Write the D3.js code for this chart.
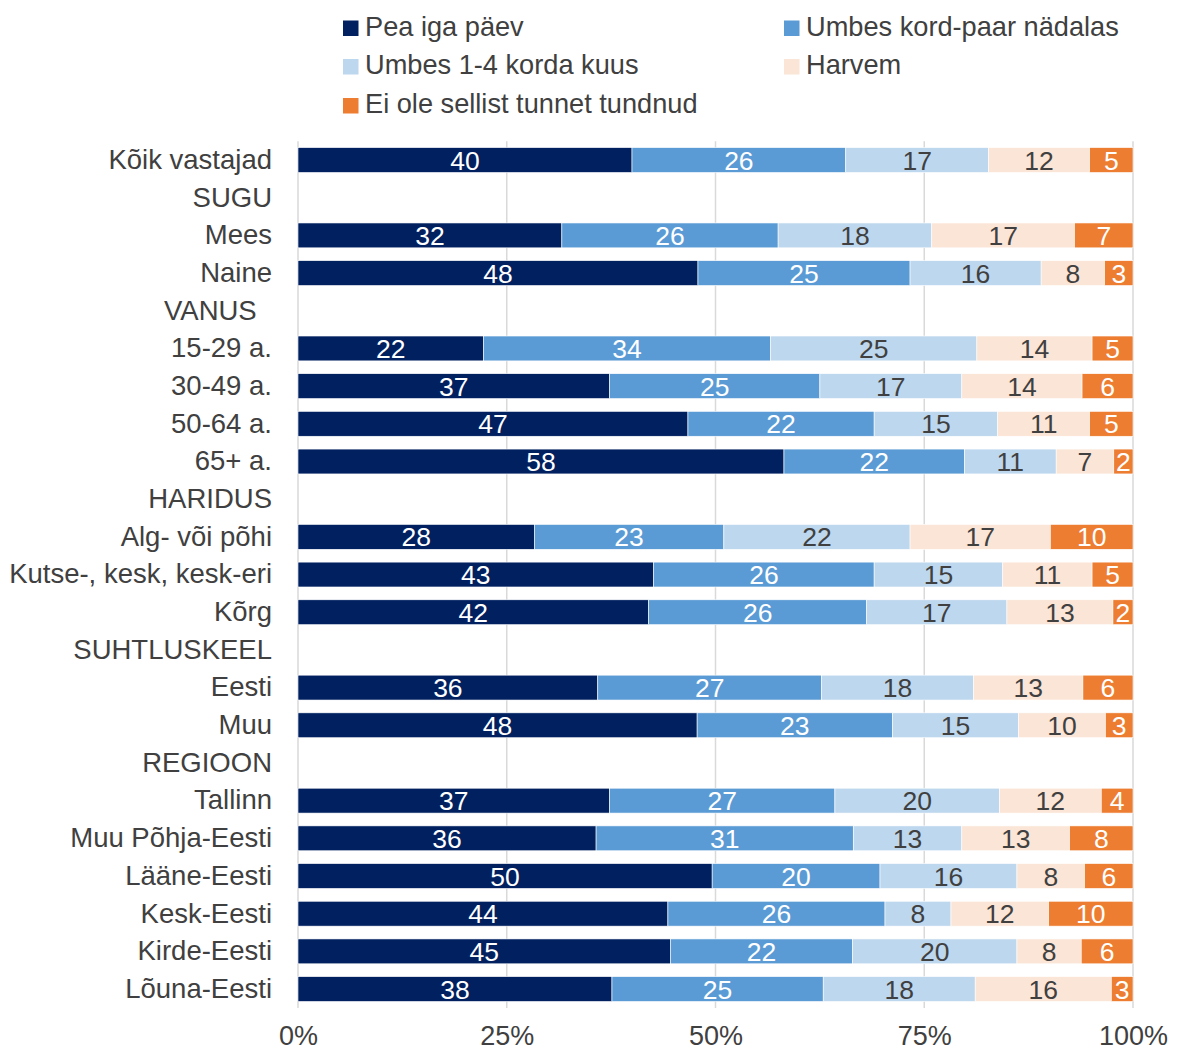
<!DOCTYPE html>
<html>
<head>
<meta charset="utf-8">
<script src="https://cdn.jsdelivr.net/npm/d3@7"></script>
<style>
  html, body { margin: 0; padding: 0; background: #fff; }
  svg { display: block; font-family: "Liberation Sans", Arial, sans-serif; }
  text { white-space: pre; }
</style>
</head>
<body>
<svg id="chart" width="1184" height="1050"></svg>
<script>
// ---- data ----
const categories = [
  "Kõik vastajad", "SUGU", "Mees", "Naine", "VANUS  ",
  "15-29 a.", "30-49 a.", "50-64 a.", "65+ a.", "HARIDUS",
  "Alg- või põhi", "Kutse-, kesk, kesk-eri", "Kõrg", "SUHTLUSKEEL",
  "Eesti", "Muu", "REGIOON", "Tallinn", "Muu Põhja-Eesti",
  "Lääne-Eesti", "Kesk-Eesti", "Kirde-Eesti", "Lõuna-Eesti"
];
const seriesNames = [
  "Pea iga päev", "Umbes kord-paar nädalas", "Umbes 1-4 korda kuus",
  "Harvem", "Ei ole sellist tunnet tundnud"
];
// null = group heading row (no bar)
const peaIgaPaev   = [40.0, null, 31.6, 47.9, null, 22.2, 37.3, 46.7, 58.2, null, 28.3, 42.6, 42.0, null, 35.9, 47.8, null, 37.3, 35.7, 49.6, 44.3, 44.6, 37.6];
const kordPaar     = [25.6, null, 25.9, 25.4, null, 34.4, 25.2, 22.3, 21.6, null, 22.7, 26.4, 26.1, null, 26.8, 23.4, null, 27.0, 30.8, 20.1, 26.0, 21.8, 25.3];
const korda14      = [17.1, null, 18.4, 15.7, null, 24.7, 17.0, 14.8, 11.0, null, 22.3, 15.4, 16.8, null, 18.2, 15.1, null, 19.7, 13.0, 16.4, 7.9, 19.7, 18.2];
const harvem       = [12.1, null, 17.1, 7.6, null, 13.8, 14.4, 11.0, 6.9, null, 16.8, 10.7, 12.7, null, 13.1, 10.4, null, 12.2, 12.9, 8.1, 11.7, 7.7, 16.3];
const eiOle        = [5.2, null, 7.0, 3.4, null, 4.9, 6.1, 5.2, 2.3, null, 9.9, 4.9, 2.4, null, 6.0, 3.3, null, 3.8, 7.6, 5.8, 10.1, 6.2, 2.6];
const xTicks = [0, 0.25, 0.5, 0.75, 1];

// ---- styles ----
const colors = ["#002060", "#5b9bd5", "#bdd7ee", "#fbe5d6", "#ed7d31"];
const labelColors = ["#ffffff", "#ffffff", "#404040", "#404040", "#ffffff"];
const textColor = "#404040";

const seriesValues = [peaIgaPaev, kordPaar, korda14, harvem, eiOle];
const keys = ["s0", "s1", "s2", "s3", "s4"];

const rows = categories.map((c, i) => {
  const r = { idx: i, cat: c };
  keys.forEach((k, j) => r[k] = seriesValues[j][i]);
  return r;
});
const dataRows = rows.filter(r => r.s0 !== null);

const W = 1184, H = 1050;
const margin = { top: 141.2, right: 51, bottom: 42.1, left: 298 };
const svg = d3.select("#chart");

const x = d3.scaleLinear().domain([0, 100]).range([margin.left, W - margin.right]);
const y = d3.scaleBand().domain(d3.range(categories.length))
  .range([margin.top, H - margin.bottom]).paddingInner(0.34).paddingOuter(0.17);

// gridlines
svg.append("g").selectAll("line").data(xTicks).join("line")
  .attr("x1", d => x(d * 100)).attr("x2", d => x(d * 100))
  .attr("y1", margin.top).attr("y2", H - margin.bottom)
  .attr("stroke", "#d9d9d9").attr("stroke-width", 1.5);

// stacked bars
const stack = d3.stack().keys(keys);
const stacked = stack(dataRows);

const layers = svg.append("g").selectAll("g").data(stacked).join("g")
  .attr("fill", (d, i) => colors[i]);
layers.selectAll("rect").data(d => d).join("rect")
  .attr("x", d => x(d[0]))
  .attr("y", d => y(d.data.idx))
  .attr("width", d => x(d[1]) - x(d[0]))
  .attr("height", y.bandwidth())
  .attr("stroke", "#ffffff").attr("stroke-width", 0.6);

// data labels
const labelG = svg.append("g");
stacked.forEach((layer, i) => {
  labelG.append("g").selectAll("text").data(layer).join("text")
    .attr("x", d => (x(d[0]) + x(d[1])) / 2)
    .attr("y", d => y(d.data.idx) + y.bandwidth() / 2)
    .attr("dy", "0.36em")
    .attr("text-anchor", "middle")
    .attr("font-size", 26.5)
    .attr("fill", labelColors[i])
    .text(d => Math.round(d[1] - d[0]));
});

// y axis
const yAxis = d3.axisLeft(y).tickSize(0).tickPadding(26).tickFormat(i => categories[i]);
const yg = svg.append("g").attr("transform", `translate(${margin.left},0)`).call(yAxis);
yg.select(".domain").remove();
yg.selectAll("text").attr("font-size", 27.5).attr("fill", textColor)
  .attr("font-family", "'Liberation Sans', Arial, sans-serif");

// x axis
const xAxis = d3.axisBottom(d3.scaleLinear().domain([0, 1]).range([margin.left, W - margin.right]))
  .tickValues(xTicks).tickFormat(d3.format(".0%")).tickSize(0).tickPadding(18);
const xg = svg.append("g").attr("transform", `translate(0,${H - margin.bottom})`).call(xAxis);
xg.select(".domain").remove();
xg.selectAll("text").attr("font-size", 27).attr("fill", textColor)
  .attr("font-family", "'Liberation Sans', Arial, sans-serif");

// legend
const legendCols = [343, 784];
const legendRowTop = [20.5, 59, 98];
const legend = svg.append("g");
seriesNames.forEach((name, i) => {
  const cx = legendCols[i % 2];
  const ty = legendRowTop[Math.floor(i / 2)];
  legend.append("rect").attr("x", cx).attr("y", ty).attr("width", 15.5).attr("height", 15.5)
    .attr("fill", colors[i]);
  legend.append("text").attr("x", cx + 22).attr("y", ty + 15)
    .attr("font-size", 27.2).attr("fill", textColor).text(name);
});
</script>
</body>
</html>
